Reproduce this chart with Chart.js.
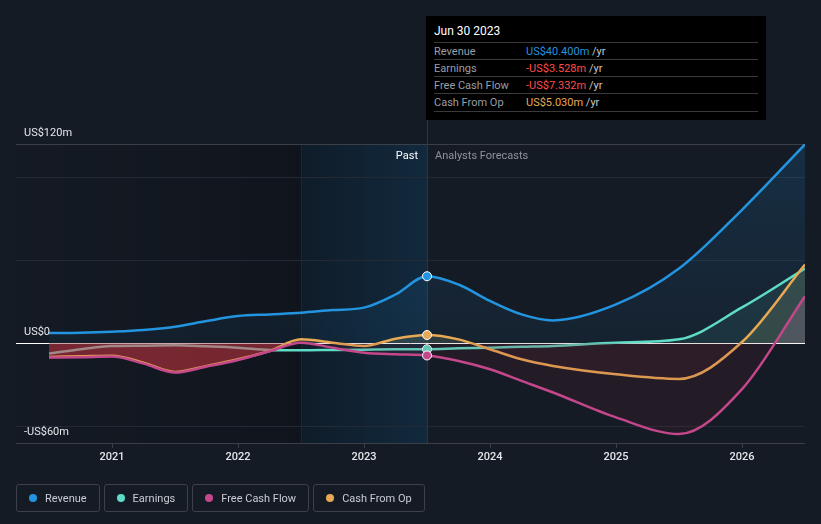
<!DOCTYPE html>
<html>
<head>
<meta charset="utf-8">
<script src="https://cdn.jsdelivr.net/npm/chart.js@4/dist/chart.umd.min.js"></script>
<style>
  html, body { margin: 0; padding: 0; background: #151b25; }
  body { width: 821px; height: 524px; position: relative; overflow: hidden; font-family: Roboto, "Open Sans", sans-serif; }
  #wrap { position: absolute; left: 0; top: 0; width: 821px; height: 524px; }
  #tip { position: absolute; left: 426px; top: 16px; width: 340px; height: 104px; background: #000; }
  #tip .title { position: absolute; left: 8px; top: 8px; font-size: 12px; color: #fff; }
  #tip .row { position: absolute; left: 8px; width: 324px; height: 17px; border-top: 1px solid #3a3a3a; font-size: 11px; line-height: 17px; }
  #tip .lab { position: absolute; left: 0; color: #9a9ea5; }
  #tip .val { position: absolute; left: 92px; }
  #tip .unit { color: #c8c8c8; }
  #tip .last { position: absolute; left: 8px; top: 95px; width: 324px; border-top: 1px solid #3a3a3a; }
  #legend { position: absolute; left: 16px; top: 484px; display: flex; gap: 4px; }
  .item { height: 26px; border: 1px solid #3b404a; border-radius: 3px; display: flex; align-items: center; padding: 0 12px 0 12px; font-size: 11px; color: #c9ccd1; }
  .dot { width: 8px; height: 8px; border-radius: 50%; margin-right: 8px; }
</style>
</head>
<body>
<div id="wrap"><canvas id="chart" width="821" height="524"></canvas></div>
<div id="tip">
  <div class="title">Jun 30 2023</div>
  <div class="row" style="top:26px"><span class="lab">Revenue</span><span class="val" style="color:#2394df">US$40.400m <span class="unit">/yr</span></span></div>
  <div class="row" style="top:43px"><span class="lab">Earnings</span><span class="val" style="color:#ff4b4b">-US$3.528m <span class="unit">/yr</span></span></div>
  <div class="row" style="top:60px"><span class="lab">Free Cash Flow</span><span class="val" style="color:#ff4b4b">-US$7.332m <span class="unit">/yr</span></span></div>
  <div class="row" style="top:77px"><span class="lab">Cash From Op</span><span class="val" style="color:#e8a854">US$5.030m <span class="unit">/yr</span></span></div>
  <div class="last"></div>
</div>
<div id="legend"></div>
<script>
// time axis in fractional years
const dates = [2020.5, 2020.75, 2021.0, 2021.25, 2021.5, 2021.75, 2022.0, 2022.25, 2022.5,
  2022.75, 2023.0, 2023.25, 2023.5, 2023.75, 2024.0, 2024.25, 2024.5, 2025.0, 2025.5, 2026.0, 2026.5];

// US$m
const revenue  = [6.2, 6.4, 7.0, 8.0, 10.0, 13.4, 16.4, 17.4, 18.4, 20.0, 21.5, 29.4, 40.4, 35.4, 25.5, 17.4, 13.8, 23.4, 45.0, 80.4, 119.8];
const earnings = [-6.2, -3.5, -1.6, -1.4, -1.2, -1.8, -2.6, -4.0, -4.2, -4.0, -3.8, -3.6, -3.5, -3.0, -2.6, -2.1, -1.6, 0.4, 2.4, 21.6, 45.0];
const fcf      = [-8.6, -8.4, -8.0, -12.2, -17.6, -14.0, -10.0, -4.8, 0.4, -2.6, -5.6, -6.6, -7.3, -10.6, -15.6, -22.6, -29.6, -44.6, -54.6, -27.6, 28.4];
const cfo      = [-8.2, -7.8, -7.4, -11.6, -17.2, -13.6, -9.6, -4.6, 2.4, 0.4, -1.6, 2.8, 5.0, 2.4, -3.6, -9.6, -13.6, -18.6, -21.4, 0.8, 47.4];

const seriesNames  = ["Revenue", "Earnings", "Free Cash Flow", "Cash From Op"];
const seriesColors = ["#2394df", "#5fdcc6", "#c4478b", "#e8a854"];

const yLabelTicks = [120, 0, -60];
const yLabelText  = ["US$120m", "US$0", "-US$60m"];
const yGridLines  = [100, 50, -50];
const xTicks      = [2021, 2022, 2023, 2024, 2025, 2026];

const pastStart = 2022.5;   // start of highlighted band
const nowX = 2023.5;        // Jun 30 2023
const markIndex = dates.indexOf(nowX);

const pts = arr => arr.map((v, i) => ({ x: dates[i], y: v }));
const earlyCount = dates.indexOf(pastStart) + 1;

const legend = document.getElementById("legend");
legend.innerHTML = seriesNames.map((n, i) =>
  `<div class="item"><span class="dot" style="background:${seriesColors[i]}"></span>${n}</div>`).join("");

const backdrop = {
  id: "backdrop",
  beforeDatasetsDraw(chart) {
    const { ctx, chartArea: a, scales: { x, y } } = chart;
    ctx.save();
    // darker early history
    const xs = x.getPixelForValue(pastStart);
    let g = ctx.createLinearGradient(a.left, 0, xs, 0);
    g.addColorStop(0, "rgba(0,0,0,0.02)");
    g.addColorStop(1, "rgba(0,0,0,0.2)");
    ctx.fillStyle = g;
    ctx.fillRect(a.left, a.top, xs - a.left, a.bottom - a.top);
    // highlighted past band
    const xn = x.getPixelForValue(nowX);
    g = ctx.createLinearGradient(xs, 0, xn, 0);
    g.addColorStop(0, "#0f1c29");
    g.addColorStop(1, "#12293d");
    ctx.fillStyle = g;
    ctx.fillRect(xs, a.top, xn - xs, a.bottom - a.top);
    ctx.fillStyle = "#18283a";
    ctx.fillRect(xs, a.top, 1, a.bottom - a.top);
    // grid
    ctx.lineWidth = 1;
    ctx.strokeStyle = "#242a34";
    yGridLines.forEach(v => {
      const py = Math.round(y.getPixelForValue(v)) + 0.5;
      ctx.beginPath(); ctx.moveTo(a.left, py); ctx.lineTo(a.right, py); ctx.stroke();
    });
    ctx.strokeStyle = "#3a3f48";
    [120, -60].forEach(v => {
      const py = Math.round(y.getPixelForValue(v)) + 0.5;
      ctx.beginPath(); ctx.moveTo(a.left, py); ctx.lineTo(a.right, py); ctx.stroke();
    });
    xTicks.forEach(t => {
      const px = Math.round(x.getPixelForValue(t)) + 0.5;
      ctx.beginPath(); ctx.moveTo(px, a.bottom); ctx.lineTo(px, a.bottom + 5); ctx.stroke();
    });
    // now line
    ctx.strokeStyle = "#1d3a52";
    ctx.beginPath(); ctx.moveTo(Math.round(xn) + 0.5, 120); ctx.lineTo(Math.round(xn) + 0.5, a.bottom); ctx.stroke();
    // zero line
    ctx.strokeStyle = "#ffffff";
    const pz = Math.round(y.getPixelForValue(0)) + 0.5;
    ctx.beginPath(); ctx.moveTo(a.left, pz); ctx.lineTo(a.right, pz); ctx.stroke();
    ctx.restore();
  },
  afterDatasetsDraw(chart) {
    const { ctx, chartArea: a, scales: { x, y } } = chart;
    ctx.save();
    ctx.font = "11px Roboto, sans-serif";
    ctx.textBaseline = "middle";
    ctx.fillStyle = "#e4e6ea";
    yLabelTicks.forEach((v, i) => {
      ctx.textAlign = "left";
      ctx.fillText(yLabelText[i], 24, y.getPixelForValue(v) - 11);
    });
    ctx.font = "500 11px Roboto, sans-serif";
    ctx.textAlign = "center";
    xTicks.forEach(t => ctx.fillText(String(t), x.getPixelForValue(t), a.bottom + 14));
    ctx.font = "11px Roboto, sans-serif";
    const xn = x.getPixelForValue(nowX);
    ctx.textAlign = "right";
    ctx.fillStyle = "#ffffff";
    ctx.fillText("Past", xn - 9, a.top + 12);
    ctx.textAlign = "left";
    ctx.fillStyle = "#8d929b";
    ctx.fillText("Analysts Forecasts", xn + 8, a.top + 12);
    ctx.restore();
  }
};

const markRadius = c => (c.dataIndex === markIndex ? 4.5 : 0);

function line(label, data, color, fillCfg, extra) {
  return Object.assign({
    label, data: pts(data),
    borderColor: color,
    backgroundColor: color,
    borderWidth: 2.5,
    pointRadius: markRadius,
    pointBackgroundColor: color,
    pointBorderColor: "#ffffff",
    pointBorderWidth: 1,
    pointHoverRadius: 0,
    cubicInterpolationMode: "monotone",
    fill: fillCfg
  }, extra || {});
}

new Chart(document.getElementById("chart"), {
  type: "line",
  data: {
    datasets: [
      line(seriesNames[2], fcf, seriesColors[2],
        { target: "origin", above: "rgba(150,120,150,0.28)", below: "rgba(140,40,60,0.12)" }),
      line(seriesNames[3], cfo, seriesColors[3],
        { target: "origin", above: "rgba(150,160,110,0.2)", below: "rgba(140,40,60,0.1)" }),
      line(seriesNames[1], earnings, seriesColors[1],
        { target: "origin", above: "rgba(95,220,198,0.1)", below: "rgba(0,0,0,0)" },
        { segment: { borderColor: c => (c.p1.parsed.x <= 2022.25 ? "#a8a29e" : undefined) } }),
      // strong red area of the early history
      {
        label: "early", data: pts(cfo.slice(0, earlyCount)),
        borderWidth: 0, pointRadius: 0, cubicInterpolationMode: "monotone",
        borderColor: "rgba(0,0,0,0)",
        fill: { target: "origin", above: "rgba(0,0,0,0)", below: "rgba(185,50,58,0.58)" }
      },
      line(seriesNames[0], revenue, seriesColors[0], {
        target: "origin",
        above: c => {
          const a = c.chart.chartArea;
          if (!a) return "rgba(35,148,223,0.1)";
          const g = c.chart.ctx.createLinearGradient(0, a.top, 0, c.chart.scales.y.getPixelForValue(0));
          g.addColorStop(0, "rgba(35,148,223,0.17)");
          g.addColorStop(1, "rgba(35,148,223,0.06)");
          return g;
        },
        below: "rgba(0,0,0,0)"
      })
    ]
  },
  options: {
    responsive: false,
    animation: false,
    layout: { padding: { left: 16, right: 16, top: 144, bottom: 81 } },
    plugins: { legend: { display: false }, tooltip: { enabled: false } },
    scales: {
      x: { type: "linear", display: false, min: 2020.238, max: 2026.5 },
      y: { display: false, min: -60, max: 120 }
    }
  },
  plugins: [backdrop]
});
</script>
</body>
</html>
